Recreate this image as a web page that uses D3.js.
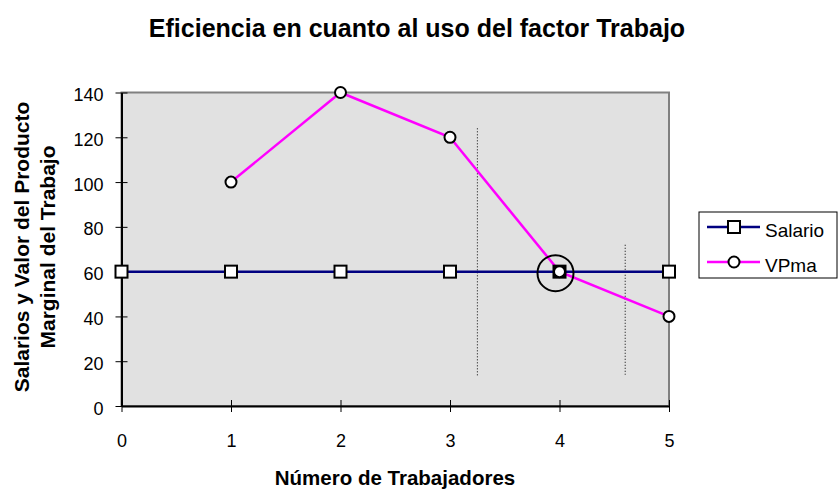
<!DOCTYPE html>
<html lang="es">
<head>
<meta charset="utf-8">
<title>Eficiencia</title>
<script src="https://d3js.org/d3.v7.min.js"></script>
<style>
  body { margin: 0; background: #fff; }
  text { font-family: Arial, "Liberation Sans", sans-serif; fill: #000; }
  .tick text { font-size: 18px; }
  .title { font-size: 25px; font-weight: bold; }
  .axisTitle { font-size: 20.5px; font-weight: bold; }
  .yTitle { font-size: 21px; font-weight: bold; }
  .legend text { font-size: 19px; }
</style>
</head>
<body>
<svg id="chart" width="838" height="489"></svg>
<script>
// data
var trabajadores = [0, 1, 2, 3, 4, 5];
var salario = [60, 60, 60, 60, 60, 60];
var vpmaX = [1, 2, 3, 4, 5];
var vpma = [100, 140, 120, 60, 40];
var yTicks = [0, 20, 40, 60, 80, 100, 120, 140];
// dotted guide lines: [x, yTop, yBottom] in data units
var guides = [[3.25, 124, 13], [4.6, 72, 14]];

var svg = d3.select("#chart"),
    margin = {top: 92.5, left: 121.5, right: 169, bottom: 83},
    width = 838 - margin.left - margin.right,
    height = 489 - margin.top - margin.bottom;

var x = d3.scaleLinear().domain([0, 5]).range([0, width]);
var y = d3.scaleLinear().domain([0, 140]).range([height, 0]);

var g = svg.append("g")
  .attr("transform", "translate(" + margin.left + "," + margin.top + ")");

// plot background
g.append("rect")
  .attr("width", width).attr("height", height)
  .attr("fill", "#e1e1e1")
  .attr("stroke", "#808080").attr("stroke-width", 2);

// guide lines
g.selectAll(".guide")
  .data(guides)
  .enter().append("line")
  .attr("x1", function(d) { return x(d[0]); })
  .attr("x2", function(d) { return x(d[0]); })
  .attr("y1", function(d) { return y(d[1]); })
  .attr("y2", function(d) { return y(d[2]); })
  .attr("stroke", "#000").attr("stroke-width", 1)
  .attr("stroke-dasharray", "1,2");

// axes
var yAxis = d3.axisLeft(y).tickValues(yTicks).tickSizeInner(6).tickSizeOuter(0);
var xAxis = d3.axisBottom(x).tickValues(trabajadores).tickFormat(d3.format("d"))
  .tickSizeInner(6).tickSizeOuter(0);

var ya = g.append("g").call(yAxis);
ya.selectAll(".tick line").attr("x2", 6).attr("x1", -6);
ya.selectAll(".tick text").attr("x", -18).attr("dy", "0.45em");
ya.select(".domain").attr("stroke-width", 2);

var xa = g.append("g").attr("transform", "translate(0," + height + ")").call(xAxis);
xa.selectAll(".tick line").attr("y1", -6).attr("y2", 6);
xa.selectAll(".tick text").attr("y", 41).attr("dy", 0);
xa.select(".domain").attr("stroke-width", 2);

// lines
var salarioPts = trabajadores.map(function(t, i) { return [t, salario[i]]; });
var vpmaPts = vpmaX.map(function(t, i) { return [t, vpma[i]]; });
var line = d3.line().x(function(d) { return x(d[0]); }).y(function(d) { return y(d[1]); });

g.append("path").datum(salarioPts)
  .attr("d", line).attr("fill", "none")
  .attr("stroke", "#000080").attr("stroke-width", 2.5);
g.append("path").datum(vpmaPts)
  .attr("d", line).attr("fill", "none")
  .attr("stroke", "#ff00ff").attr("stroke-width", 2.5);

// markers
g.selectAll(".sq").data(salarioPts).enter().append("rect")
  .attr("x", function(d) { return x(d[0]) - 6; })
  .attr("y", function(d) { return y(d[1]) - 6; })
  .attr("width", 12).attr("height", 12)
  .attr("fill", function(d) { return d[0] === 4 ? "#000" : "#fff"; })
  .attr("stroke", "#000").attr("stroke-width", 2);

g.selectAll(".dot").data(vpmaPts).enter().append("circle")
  .attr("cx", function(d) { return x(d[0]); })
  .attr("cy", function(d) { return y(d[1]); })
  .attr("r", 5.5)
  .attr("fill", "#fff").attr("stroke", "#000").attr("stroke-width", 2);

// highlight circle at equilibrium
g.append("circle")
  .attr("cx", x(4) - 4).attr("cy", y(60) + 1.5)
  .attr("r", 18)
  .attr("fill", "none").attr("stroke", "#000").attr("stroke-width", 2);

// titles
svg.append("text").attr("class", "title")
  .attr("x", 417).attr("y", 37).attr("text-anchor", "middle")
  .text("Eficiencia en cuanto al uso del factor Trabajo");

svg.append("text").attr("class", "axisTitle")
  .attr("x", 395).attr("y", 485).attr("text-anchor", "middle")
  .text("Número de Trabajadores");

var yt = svg.append("text").attr("class", "yTitle")
  .attr("transform", "translate(0,247) rotate(-90)")
  .attr("text-anchor", "middle");
yt.append("tspan").attr("x", 0).attr("y", 29).text("Salarios y Valor del Producto");
yt.append("tspan").attr("x", 0).attr("y", 55).text("Marginal del Trabajo");

// legend
var leg = svg.append("g").attr("class", "legend").attr("transform", "translate(699,212)");
leg.append("rect").attr("width", 138).attr("height", 66)
  .attr("fill", "#fff").attr("stroke", "#000").attr("stroke-width", 1);
var items = [
  {name: "Salario", color: "#000080", shape: "square"},
  {name: "VPma", color: "#ff00ff", shape: "circle"}
];
items.forEach(function(it, i) {
  var cy = 15 + i * 35;
  leg.append("line").attr("x1", 8).attr("x2", 61).attr("y1", cy).attr("y2", cy)
    .attr("stroke", it.color).attr("stroke-width", 2.5);
  if (it.shape === "square") {
    leg.append("rect").attr("x", 29).attr("y", cy - 6).attr("width", 12).attr("height", 12)
      .attr("fill", "#fff").attr("stroke", "#000").attr("stroke-width", 2);
  } else {
    leg.append("circle").attr("cx", 35).attr("cy", cy).attr("r", 5.5)
      .attr("fill", "#fff").attr("stroke", "#000").attr("stroke-width", 2);
  }
  leg.append("text").attr("x", 66).attr("y", cy + 10).text(it.name);
});
</script>
</body>
</html>
